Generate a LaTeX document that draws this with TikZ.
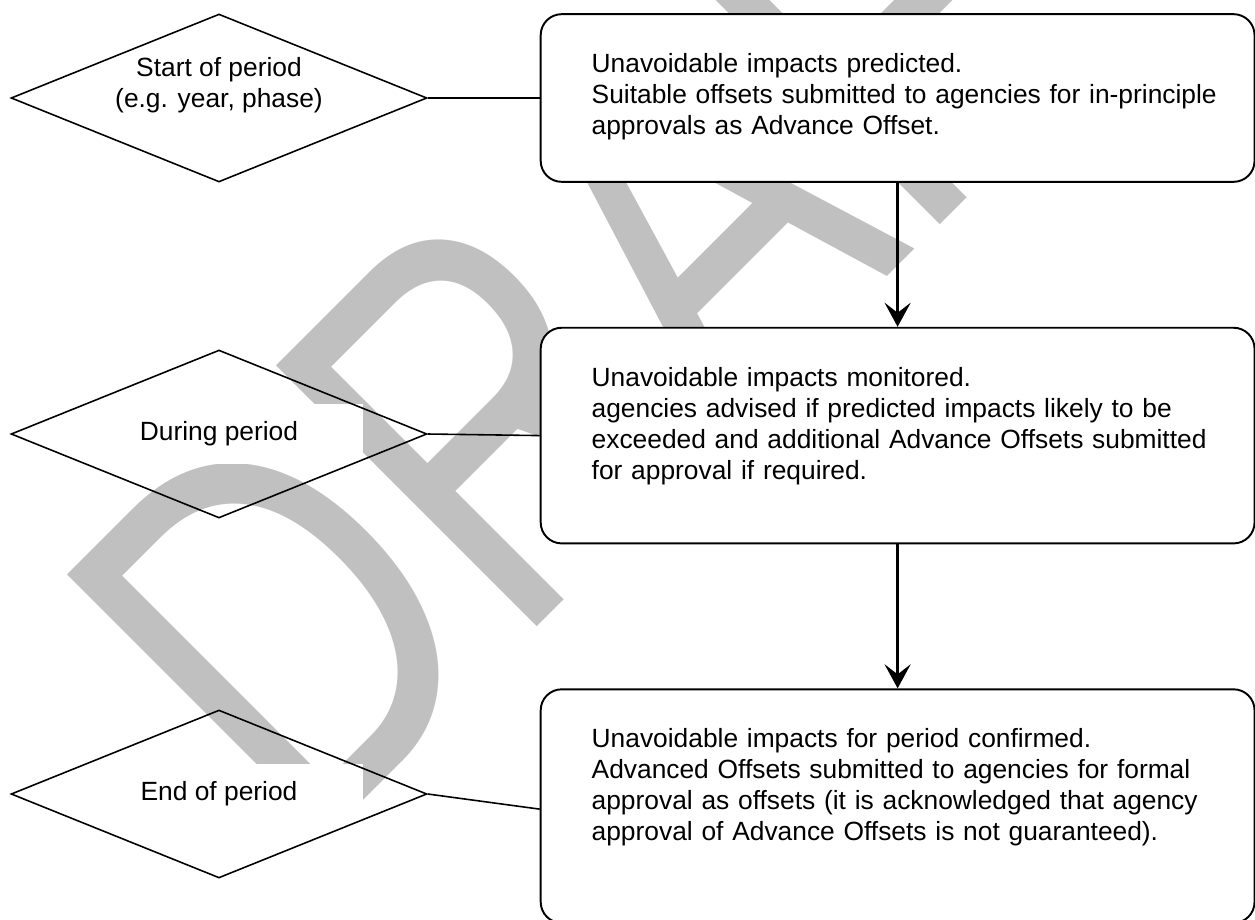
\documentclass[tikz,border=0pt]{standalone}
\usepackage{fontspec}
\setmainfont{Liberation Sans}
\usetikzlibrary{shapes.geometric,positioning,arrows.meta}
\definecolor{draftgray}{RGB}{192,192,192}

\begin{document}
\begin{tikzpicture}[
      x=0.02cm, y=-0.02cm,
      every node/.style={font=\fontsize{15pt}{17.64pt}\selectfont},
      watermark/.style={text=draftgray, font=\fontsize{233pt}{233pt}\selectfont, inner sep=0pt, anchor=base west, rotate=45, yscale=1.31, transform shape},
      decision/.style={diamond, draw=black, line width=0.9pt, minimum width=8.32cm, minimum height=3.36cm, inner sep=0pt},
      period/.style={rectangle, fill=white, align=center, inner sep=0pt, minimum width=5.76cm},
      periodone/.style={period, text height=0.74cm, text depth=0.46cm, anchor=base},
      stepbox/.style={rectangle, rounded corners=0.42cm, draw=black, fill=white, line width=1.1pt, text width=13cm, inner xsep=0.64cm, inner ysep=0.79cm, text height=10.7pt, align=left, execute at begin node={\leftskip=0.38cm}},
      link/.style={draw=black, line width=0.9pt},
      flow/.style={draw=black, line width=1.8pt, -{Stealth[length=0.48cm, width=0.52cm, inset=0.2cm]}}
      ]
      \useasboundingbox (0,0) rectangle (1255,920);
      \clip (0,0) rectangle (1255,920);

      % the grey DRAFT stamp goes first, everything else sits on top of it
      \node[watermark] (draft) at (304.7,859.3) {DRAFT};

      % period labels (white boxes), then the diamonds drawn round them
      \node[period] (start) at (219,85) {Start of period\\(e.g. year, phase)};
      \node[periodone] (during) at (219,440.9) {During period};
      \node[periodone, text depth=1.3cm] (finish) at (219,800.5) {End of period};

      \node[decision] (startshape) at (219,98) {};
      \node[decision] (duringshape) at (219,434) {};
      \node[decision] (finishshape) at (219,794) {};

      % the three steps, stacked under each other
      \node[stepbox, text depth=1.398cm, right=2.24cm of startshape] (predict) {
        Unavoidable impacts predicted.\\
        Suitable offsets submitted to agencies for in-principle\\
        approvals as Advance Offset.
      };
      \node[stepbox, text depth=2.358cm, below=2.88cm of predict] (monitor) {
        Unavoidable impacts monitored.\\
        agencies advised if predicted impacts likely to be\\
        exceeded and additional Advance Offsets submitted\\
        for approval if required.
      };
      \node[stepbox, text depth=2.718cm, below=2.88cm of monitor] (confirm) {
        Unavoidable impacts for period confirmed.\\
        Advanced Offsets submitted to agencies for formal\\
        approval as offsets (it is acknowledged that agency\\
        approval of Advance Offsets is not guaranteed).
      };

      % plain lines from each diamond to its step
      \path (startshape.east) edge [link] (predict.west);
      \path (duringshape.east) edge [link] (monitor.west);
      \path (finishshape.east) edge [link] ([yshift=-0.06cm]confirm.west);

      % arrows down the steps
      \path (predict.south) edge [flow] (monitor.north);
      \path (monitor.south) edge [flow] (confirm.north);
\end{tikzpicture}
\end{document}
